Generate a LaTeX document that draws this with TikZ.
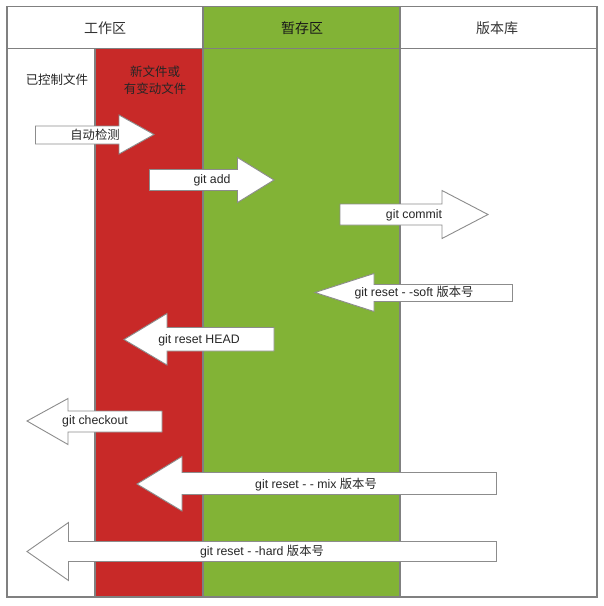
\documentclass[tikz,border=0pt]{standalone}
\usepackage{fontspec}
\setmainfont{Liberation Sans}
\newfontfamily\cjk{Noto Sans CJK SC}
\definecolor{zred}{HTML}{C82928}
\definecolor{zgreen}{HTML}{82B336}
\definecolor{zline}{HTML}{808080}
\definecolor{aline}{HTML}{8C8C8C}
\definecolor{ztext}{HTML}{333333}
\begin{document}
\begin{tikzpicture}[x=1pt,y=-1pt,
  frameline/.style={draw=zline,line width=1.6pt},
  blockarrow/.style={draw=aline,fill=white,line width=0.9pt,line join=miter},
  headtxt/.style={font=\cjk\fontsize{14}{16}\selectfont,text=ztext,inner sep=0pt},
  subtxt/.style={font=\cjk\fontsize{12.5}{17}\selectfont,text=black!85,inner sep=0pt,align=center},
  lbl/.style={font=\fontsize{12.3}{14}\selectfont,text=black!85,inner sep=0pt}]
\useasboundingbox (0,0) rectangle (604,606);
\fill[white] (0,0) rectangle (604,606);
% column fills
\fill[zgreen] (203,6.5) rectangle (400,597);
\fill[zred] (95,48.5) rectangle (203,597);
% frame
\draw[frameline] (7,6.5) rectangle (597,597);
\draw[frameline] (7,48.5) -- (597,48.5);
\draw[frameline] (203,6.5) -- (203,597);
\draw[frameline] (400,6.5) -- (400,597);
\draw[frameline] (95,48.5) -- (95,597);
% headers
\node[headtxt] (h1) at (105,28) {工作区};
\node[headtxt,text=black!90] (h2) at (302,28) {暂存区};
\node[headtxt] (h3) at (497,28) {版本库};
\node[subtxt] (s1) at (57,80) {已控制文件};
\node[subtxt] (s2) at (155,80) {新文件或\\有变动文件};
% arrows
\draw[blockarrow] (35.5,126) -- (119,126) -- (119,115) -- (154,134.5) -- (119,154) -- (119,144) -- (35.5,144) -- cycle;
\node[lbl] (a1) at (95,135) {\cjk 自动检测};
\draw[blockarrow] (149.5,169.5) -- (237.5,169.5) -- (237.5,157.5) -- (274,180) -- (237.5,202.5) -- (237.5,190.5) -- (149.5,190.5) -- cycle;
\node[lbl] (a2) at (212,180) {git add};
\draw[blockarrow] (340,204) -- (442,204) -- (442,190.5) -- (488,214.5) -- (442,238.5) -- (442,225) -- (340,225) -- cycle;
\node[lbl] (a3) at (414,215) {git commit};
\draw[blockarrow] (315,292.5) -- (374,273.5) -- (374,284.5) -- (512.5,284.5) -- (512.5,301.5) -- (374,301.5) -- (374,311.5) -- cycle;
\node[lbl] (a4) at (414,293) {git reset - -soft {\cjk 版本号}};
\draw[blockarrow] (124,339.5) -- (167,313.5) -- (167,327.5) -- (274,327.5) -- (274,351) -- (167,351) -- (167,365) -- cycle;
\node[lbl] (a5) at (199,340) {git reset HEAD};
\draw[blockarrow] (27,421) -- (68,398.5) -- (68,411) -- (162,411) -- (162,432) -- (68,432) -- (68,444.5) -- cycle;
\node[lbl] (a6) at (95,421.5) {git checkout};
\draw[blockarrow] (137,484) -- (182,456.5) -- (182,472.5) -- (496.5,472.5) -- (496.5,494.5) -- (182,494.5) -- (182,511) -- cycle;
\node[lbl] (a7) at (316,484.5) {git reset - - mix {\cjk 版本号}};
\draw[blockarrow] (27,551.5) -- (68.5,522.5) -- (68.5,541.5) -- (496.5,541.5) -- (496.5,561.5) -- (68.5,561.5) -- (68.5,580.5) -- cycle;
\node[lbl] (a8) at (262,551.5) {git reset - -hard {\cjk 版本号}};
\end{tikzpicture}
\end{document}
